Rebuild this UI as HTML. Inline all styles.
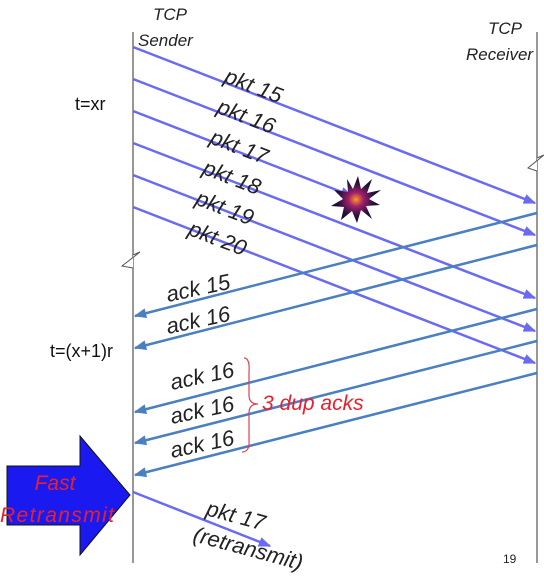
<!DOCTYPE html>
<html><head><meta charset="utf-8"><style>
body{margin:0;background:#fff}
svg{display:block}
text{font-family:"Liberation Sans",sans-serif}
.lbl{font-style:italic;font-size:22px;fill:#222}
</style></head><body>
<svg width="544" height="578" viewBox="0 0 544 578" xmlns="http://www.w3.org/2000/svg">
<defs>
<marker id="ap" viewBox="0 0 10 10" refX="9" refY="5" markerWidth="5" markerHeight="5" orient="auto"><path d="M0,1 L10,5 L0,9 z" fill="#6a6af5"/></marker>
<marker id="aa" viewBox="0 0 10 10" refX="9" refY="5" markerWidth="5" markerHeight="5" orient="auto"><path d="M0,1 L10,5 L0,9 z" fill="#4a7fc0"/></marker>
<radialGradient id="boom"><stop offset="0" stop-color="#ff9a20"/><stop offset="0.3" stop-color="#a0206a"/><stop offset="0.7" stop-color="#2a1040"/><stop offset="1" stop-color="#0d0a25"/></radialGradient>
</defs>
<line x1="133" y1="32" x2="133" y2="563" stroke="#777" stroke-width="1.5"/>
<line x1="537" y1="32" x2="537" y2="563" stroke="#777" stroke-width="1.5"/>
<path d="M133,255 L140,252 L122,266 L133,268" fill="#fff" stroke="#555" stroke-width="1"/>
<path d="M537,158 L544,155 L528,168 L537,171" fill="#fff" stroke="#555" stroke-width="1"/>
<text x="153" y="20" class="lbl" style="font-size:17px">TCP</text>
<text x="138" y="46" class="lbl" style="font-size:17px">Sender</text>
<text x="488" y="34" class="lbl" style="font-size:17px">TCP</text>
<text x="466" y="60" class="lbl" style="font-size:17px">Receiver</text>
<text x="75" y="110" style="font-size:18px" fill="#111">t=xr</text>
<text x="50" y="357" style="font-size:18px" fill="#111">t=(x+1)r</text>
<text x="503" y="563" style="font-size:12px" fill="#222">19</text>
<g id="marks"></g>
<polygon points="358,176 361,189 372,179 367,193 381,190 369,199 380,205 366,206 372,219 361,210 357,223 352,211 341,220 344,207 331,206 343,199 334,190 348,192 347,179 353,189" fill="url(#boom)"/>
<path d="M244,358 Q250,358 249,372 L249,395 Q249,404 258,404 Q249,404 249,413 L249,440 Q250,452 242,452" fill="none" stroke="#e04050" stroke-width="1.2"/>
<text x="262" y="410" style="font-size:21px;font-style:italic" fill="#e8202c">3 dup acks</text>
<polygon points="7,466 80,466 80,436 130,495 80,555 80,525 7,525" fill="#1a1af0" stroke="#111" stroke-width="1"/>
<text x="55" y="490" text-anchor="middle" style="font-size:21px;font-style:italic" fill="#e8202c">Fast</text>
<text x="0" y="522" style="font-size:21px;font-style:italic" textLength="114" fill="#e8202c">Retransmit</text>
</svg>
<script>
const pktNames=["pkt 15","pkt 16","pkt 17","pkt 18","pkt 19","pkt 20"];
const pktSendY=[47,79,111,143,175,207];
const pktRecvY=[203,235,null,298,331,363];
const ackNames=["ack 15","ack 16","ack 16","ack 16","ack 16"];
const ackSendY=[213,245,309,341,373];
const ackRecvY=[316,348,412,443,475];
const SX=133,RX=535;
const NS="http://www.w3.org/2000/svg";
const g=document.getElementById('marks');
function mk(tag,attrs){const e=document.createElementNS(NS,tag);for(const k in attrs)e.setAttribute(k,attrs[k]);g.appendChild(e);return e;}
pktNames.forEach((n,i)=>{
  let x2=RX,y2=pktRecvY[i];
  if(y2===null){const slope=(pktRecvY[0]-pktSendY[0])/(RX-SX);x2=352;y2=pktSendY[i]+slope*(x2-SX);}
  const l=mk('line',{x1:SX,y1:pktSendY[i],x2:x2,y2:y2,stroke:'#6a6af5','stroke-width':2.5,'marker-end':'url(#ap)'});
  
  
  const lx=223-i*7.2,ly=82+i*30.5;
  const t=mk('text',{x:lx,y:ly,class:'lbl',transform:`rotate(21 ${lx} ${ly})`});
  t.textContent=n;
  
  
});
const ackLX=[168,168,172,172,172],ackLY=[302,334,390,424,458];
ackNames.forEach((n,i)=>{
  const l=mk('line',{x1:537,y1:ackSendY[i],x2:SX+2,y2:ackRecvY[i],stroke:'#4a7fc0','stroke-width':2.5,'marker-end':'url(#aa)'});
  
  
  const t=mk('text',{x:ackLX[i],y:ackLY[i],class:'lbl',transform:`rotate(-12 ${ackLX[i]} ${ackLY[i]})`});
  t.textContent=n;
  
  
});
const r=mk('line',{x1:SX,y1:492,x2:270,y2:546,stroke:'#6a6af5','stroke-width':2.5,'marker-end':'url(#ap)'});


const t1=mk('text',{x:205,y:515,class:'lbl',transform:'rotate(15 205 515)'});t1.textContent='pkt 17';


const t2=mk('text',{x:192,y:541,class:'lbl',transform:'rotate(15 192 541)'});t2.textContent='(retransmit)';


</script>
</body></html>
